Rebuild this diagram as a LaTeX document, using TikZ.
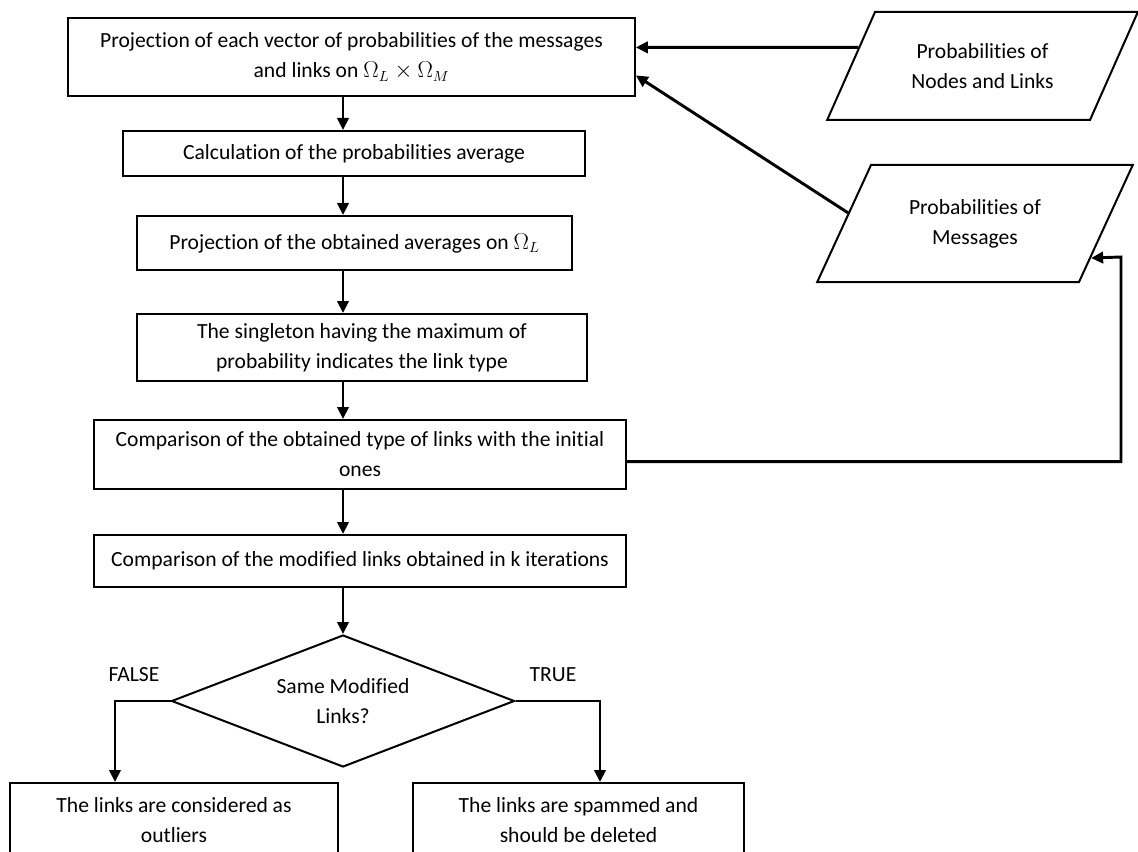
\documentclass[tikz,border=0pt]{standalone}
\usepackage{fontspec}
\setmainfont{Carlito}[Ligatures=NoCommon]
\usepackage{amsmath,amssymb}
\usetikzlibrary{arrows.meta,shapes.geometric,calc}
\definecolor{fcInk}{RGB}{0,0,0}

\begin{document}
\begin{tikzpicture}[x=0.75pt,y=-0.75pt,
  every node/.style={font=\fontsize{16.2}{22.5}\selectfont,text=fcInk},
  fcbox/.style={draw=fcInk,line width=1.5pt,align=center,inner sep=2pt},
  fcio/.style={draw=fcInk,trapezium,trapezium left angle=55,
               trapezium right angle=125,trapezium stretches=true,
               line width=1.5pt,align=center,inner sep=0pt},
  fcdec/.style={draw=fcInk,diamond,shape aspect=2.6,line width=1.5pt,
                align=center,inner sep=0pt},
  fcarr/.style={draw=fcInk,line width=2.2pt,-{Triangle[length=9pt,width=8.5pt]}}]
\useasboundingbox (0,0) rectangle (1138,852);
% Main chain of processing steps
\node[fcbox,minimum width=425pt,minimum height=58.5pt] (b1) at (351.5,57)
  {Projection of each vector of probabilities of the messages\\
   and links on $\Omega_L\times\Omega_M$};
\node[fcbox,minimum width=346.5pt,minimum height=33.75pt] (b2) at (354,153.5)
  {Calculation of the probabilities average};
\node[fcbox,minimum width=326.25pt,minimum height=40.5pt] (b3) at (354.5,243)
  {Projection of the obtained averages on $\Omega_L$};
\node[fcbox,minimum width=337.5pt,minimum height=50.25pt] (b4) at (362,347.5)
  {The singleton having the maximum of\\ probability indicates the link type};
\node[fcbox,minimum width=399pt,minimum height=51.75pt] (b5) at (360,454.5)
  {Comparison of the obtained type of links with the initial\\ ones};
\node[fcbox,minimum width=399pt,minimum height=39pt] (b6) at (360,561)
  {Comparison of the modified links obtained in k iterations};
\node[fcdec,minimum width=257.25pt,minimum height=99pt] (dec) at (343,701)
  {Same Modified\\ Links?};
% Outcomes (cut by the page edge)
\node[fcbox,minimum width=246pt,minimum height=55.5pt] (out) at (174,820)
  {The links are considered as\\ outliers};
\node[fcbox,minimum width=248.25pt,minimum height=55.5pt] (spam) at (578.5,820)
  {The links are spammed and\\ should be deleted};
% Inputs
\node[fcio,minimum width=233.25pt,minimum height=81pt] (p1) at (982.5,66)
  {Probabilities of\\ Nodes and Links};
\node[fcio,minimum width=237pt,minimum height=87.75pt] (p2) at (975,223.5)
  {Probabilities of\\ Messages};
% Branch labels
\node (flab) at (134,675) {FALSE};
\node (tlab) at (553,675) {TRUE};
% Straight flow
\foreach \a/\b in {b1/b2,b2/b3,b3/b4,b4/b5,b5/b6,b6/dec}{
  \draw[fcarr] (\a.south -| dec.north) -- (\b.north -| dec.north);
}
% Inputs into the first step
\draw[fcarr] ($(p1.bottom left corner)!0.67!(p1.top left corner)$)
  -- ($(b1.north east)!0.38!(b1.south east)$);
\draw[fcarr] ($(p2.bottom left corner)!0.59!(p2.top left corner)$)
  -- ($(b1.north east)!0.73!(b1.south east)$);
% Feedback to the messages
\coordinate (fbturn) at (1121,257);
\draw[fcarr] ($(b5.north east)!0.6!(b5.south east)$) -| (fbturn)
  -- ($(p2.bottom right corner)!0.21!(p2.top right corner)$);
% Decision branches
\coordinate (fx) at (115,701);
\coordinate (tx) at (600,701);
\draw[fcarr] (dec.west) -| (out.north -| fx);
\draw[fcarr] (dec.east) -| (spam.north -| tx);
\end{tikzpicture}
\end{document}
